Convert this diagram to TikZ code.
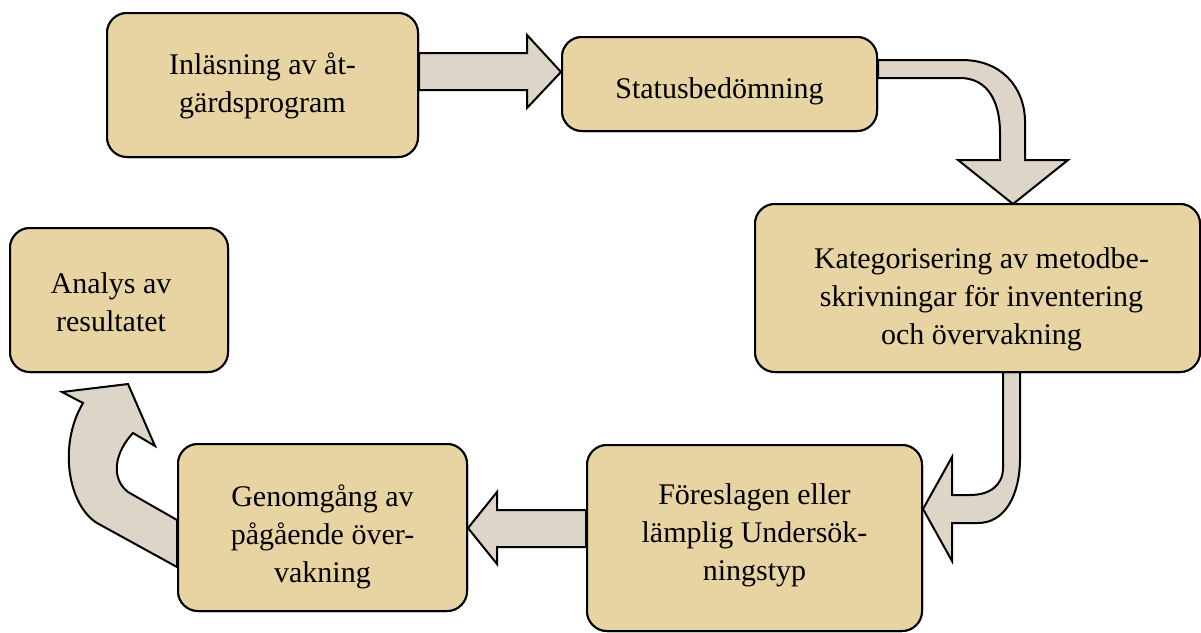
\documentclass[tikz,border=0pt]{standalone}
\usepackage{fontspec}
\setmainfont{Liberation Serif}
\usetikzlibrary{calc}
\begin{document}
\begin{tikzpicture}[x=0.75pt,y=-0.75pt,
  box/.style={draw=black, line width=1.5pt, fill=boxfill, rounded corners=15pt, inner sep=0pt},
  txt/.style={align=center, inner sep=0pt, font=\fontsize{22.5pt}{28.5pt}\selectfont},
  blockarrow/.style={draw=black, line width=1.5pt, fill=arrowfill, line join=miter}]
\definecolor{boxfill}{RGB}{232,212,163}
\definecolor{arrowfill}{RGB}{221,214,200}
\useasboundingbox (0,0) rectangle (1201,632);

% boxes
\node[box, minimum width=233.25pt, minimum height=108pt] (b1) at (262.5,85) {};
\node[box, minimum width=236.25pt, minimum height=70.5pt] (b2) at (719.5,84) {};
\node[box, minimum width=333.75pt, minimum height=126pt] (b3) at (977.5,288) {};
\node[box, minimum width=251.25pt, minimum height=139.5pt] (b4) at (754.5,538) {};
\node[box, minimum width=216.75pt, minimum height=125.25pt] (b5) at (322.5,527.5) {};
\node[box, minimum width=163.5pt, minimum height=108pt] (b6) at (119,300) {};

% block arrows
\draw[blockarrow] (b1.east |- 0,53) -- (527,53) -- (527,35) -- (b2.west |- 0,72) -- (527,108) -- (527,90) -- (b1.east |- 0,90) -- cycle;
\draw[blockarrow] (b2.east |- 0,60) -- (962,60) .. controls (1002,60) and (1025,88) .. (1025,122) -- (1025,160) -- (1068,160) -- (1013,204) -- (958,160) -- (1000,160) -- (1000,133) .. controls (1000,102) and (988,78) .. (960,78) -- (b2.east |- 0,78) -- cycle;
\draw[blockarrow] (1003,372) -- (1003,468) .. controls (1003,485) and (990,495) .. (970,495) -- (952,495) -- (952,457) -- (b4.east |- 0,509) -- (952,561) -- (952,523) -- (978,523) .. controls (1005,523) and (1020,495) .. (1020,458) -- (1020,372) -- cycle;
\draw[blockarrow] (b4.west |- 0,510) -- (497,510) -- (497,492) -- (b5.east |- 0,528) -- (497,564) -- (497,547) -- (b4.west |- 0,547) -- cycle;
\draw[blockarrow] (b5.west |- 0,567) -- (97,523) .. controls (68,505) and (58,445) .. (83,403) -- (62,392) -- (128,384) -- (155,446) -- (133,433) .. controls (115,452) and (110,478) .. (128,492) -- (b5.west |- 0,520) -- cycle;

% redraw boxes on top of arrow ends
\node[box, minimum width=233.25pt, minimum height=108pt] at (b1) {};
\node[box, minimum width=236.25pt, minimum height=70.5pt] at (b2) {};
\node[box, minimum width=333.75pt, minimum height=126pt] at (b3) {};
\node[box, minimum width=251.25pt, minimum height=139.5pt] at (b4) {};
\node[box, minimum width=216.75pt, minimum height=125.25pt] at (b5) {};
\node[box, minimum width=163.5pt, minimum height=108pt] at (b6) {};

% texts
\node[txt] (t1) at ($(b1.center)+(0,1)$) {Inläsning av åt-\\gärdsprogram};
\node[txt] (t2) at ($(b2.center)+(0,7)$) {Statusbedömning};
\node[txt] (t3) at ($(b3.center)+(4,11)$) {Kategorisering av metodbe-\\skrivningar för inventering\\och övervakning};
\node[txt] (t4) at ($(b4.center)+(0,-3)$) {Föreslagen eller\\lämplig Undersök-\\ningstyp};
\node[txt] (t5) at ($(b5.center)+(0,9)$) {Genomgång av\\pågående över-\\vakning};
\node[txt] (t6) at ($(b6.center)+(-8,2)$) {Analys av\\resultatet};
\end{tikzpicture}
\end{document}
